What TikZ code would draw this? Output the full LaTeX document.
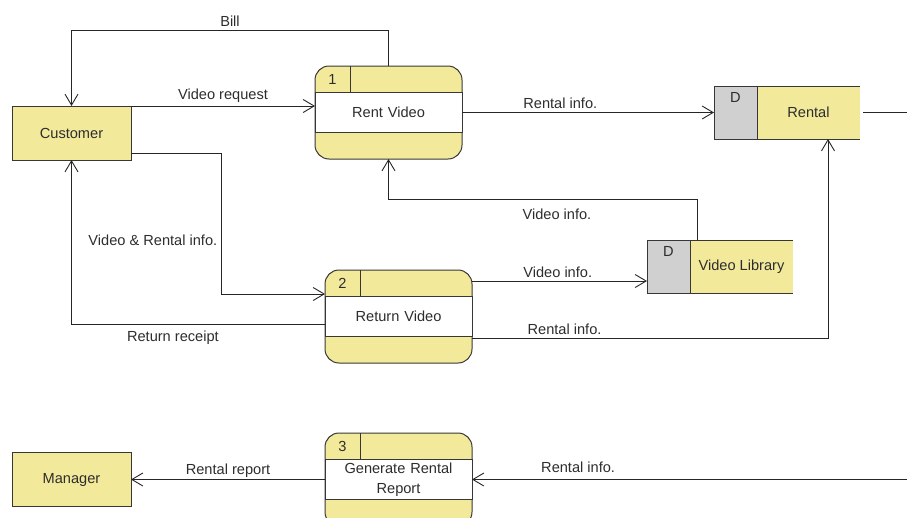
\documentclass[tikz,border=0pt]{standalone}
\usepackage{fontspec}
\setmainfont{Liberation Sans}
\usetikzlibrary{positioning}
\usetikzlibrary{arrows.meta}
\definecolor{dfdyellow}{RGB}{243,233,155}
\definecolor{dfdgray}{RGB}{208,208,208}
\definecolor{dfdline}{RGB}{55,55,55}
\definecolor{dfdtext}{RGB}{45,45,45}

\begin{document}
\begin{tikzpicture}[x=1pt,y=-1pt,node distance=0pt,text=dfdtext,
		font=\fontsize{14.6}{20.5}\selectfont,
		flow/.style={->,>={Straight Barb[length=11pt,width=13pt]},line width=0.9pt,draw=black!85},
		border/.style={draw=dfdline,line width=1pt},
		entity/.style={rectangle,border,fill=dfdyellow,minimum width=119pt,minimum height=54pt,outer sep=0pt},
		proc/.style={rectangle,border,fill=dfdyellow,rounded corners=14pt,minimum width=147pt,minimum height=93pt,outer sep=0pt},
		proc text/.style={rectangle,border,fill=white,minimum width=147pt,minimum height=40pt,text width=140pt,align=center,inner sep=0pt,outer sep=0pt},
		proc id/.style={rectangle,minimum width=35pt,minimum height=27pt,inner sep=0pt,outer sep=0pt},
		store/.style={rectangle,fill=dfdyellow,minimum width=103pt,minimum height=53pt,outer sep=0pt},
		store id/.style={rectangle,border,fill=dfdgray,minimum width=43pt,minimum height=53pt,outer sep=0pt}]
		
		\useasboundingbox (0,0) rectangle (907,517);
		\clip (0,0) rectangle (907,517);
		
		% external entities
		\node[entity] (cust) at (71.5,133) {Customer};
		\node[entity] (mgr) at (71.5,479.5) {Manager};
		
		% processes
		\node[proc] (p1) at (388.5,112.5) {};
		\node[proc text] (p1t) at (p1) {Rent Video};
		\node[proc id,anchor=north west] (p1n) at (p1.north west) {1};
		\draw[border] (p1n.north east) -- (p1n.south east);
		
		\node[proc] (p2) at (398.5,316.5) {};
		\node[proc text] (p2t) at (p2) {Return Video};
		\node[proc id,anchor=north west] (p2n) at (p2.north west) {2};
		\draw[border] (p2n.north east) -- (p2n.south east);
		
		\node[proc] (p3) at (398.5,479.5) {};
		\node[proc text] (p3t) at (p3) {Generate Rental\\Report};
		\node[proc id,anchor=north west] (p3n) at (p3.north west) {3};
		\draw[border] (p3n.north east) -- (p3n.south east);
		
		% data stores
		\node[store] (rs) at (808.5,112.5) {Rental};
		\node[store id,left=of rs] (rsd) {};
		\node[below=6pt of rsd.north,inner sep=0pt] (rsdl) {D};
		\draw[border] (rsd.north east) -- (rs.north east) (rsd.south east) -- (rs.south east);
		
		\node[store] (vl) at (741.5,266.5) {Video Library};
		\node[store id,left=of vl] (vld) {};
		\node[below=6pt of vld.north,inner sep=0pt] (vldl) {D};
		\draw[border] (vld.north east) -- (vl.north east) (vld.south east) -- (vl.south east);
		
		\coordinate (rsout) at (907,112.5);
		\coordinate (p3in) at (907,479.5);
		
		% data flows
		\path[every edge/.append style={flow}]
		(cust.north east) edge node[above] (lreq) {Video request} (cust.north east -| p1.west)
		(p1.east) edge node[pos=0.39,above] (lrent1) {Rental info.} (rsd.west)
		([yshift=35.5pt]p2.east) edge node[pos=0.49,above] (lvid2) {Video info.} ([yshift=-14.5pt]vld.west)
		(p3in) edge node[pos=0.756,above,yshift=3pt] (lrent3) {Rental info.} (p3.east)
		(p3.west) edge node[above,yshift=-2pt] (lreport) {Rental report} (mgr.east);
		
		\draw[flow] (p1.north) -- ++(0,-36) -| node[pos=0.25,above] (lbill) {Bill} (cust.north);
		\draw[flow] ([yshift=7pt]cust.south east) -- ++(90,0) |- node[pos=0.31,left] (lvr) {Video \& Rental info.} ([yshift=22.5pt]p2.west);
		\draw[flow] ([yshift=-7.5pt]p2.west) -| node[pos=0.3,below,yshift=-3pt] (lrr) {Return receipt} (cust.south);
		\draw[flow] ([xshift=7pt]vl.north west) -- ++(0,-41) -| node[pos=0.227,below,yshift=-6pt] (lvid1) {Video info.} (p1.south);
		\draw[flow] ([yshift=-21.5pt]p2.east) -| node[pos=0.13,above] (lrent2) {Rental info.} ([xshift=19.5pt]rs.south);
		\draw[flow,-] ([xshift=3pt]rs.east) -- (rsout);
\end{tikzpicture}
\end{document}
